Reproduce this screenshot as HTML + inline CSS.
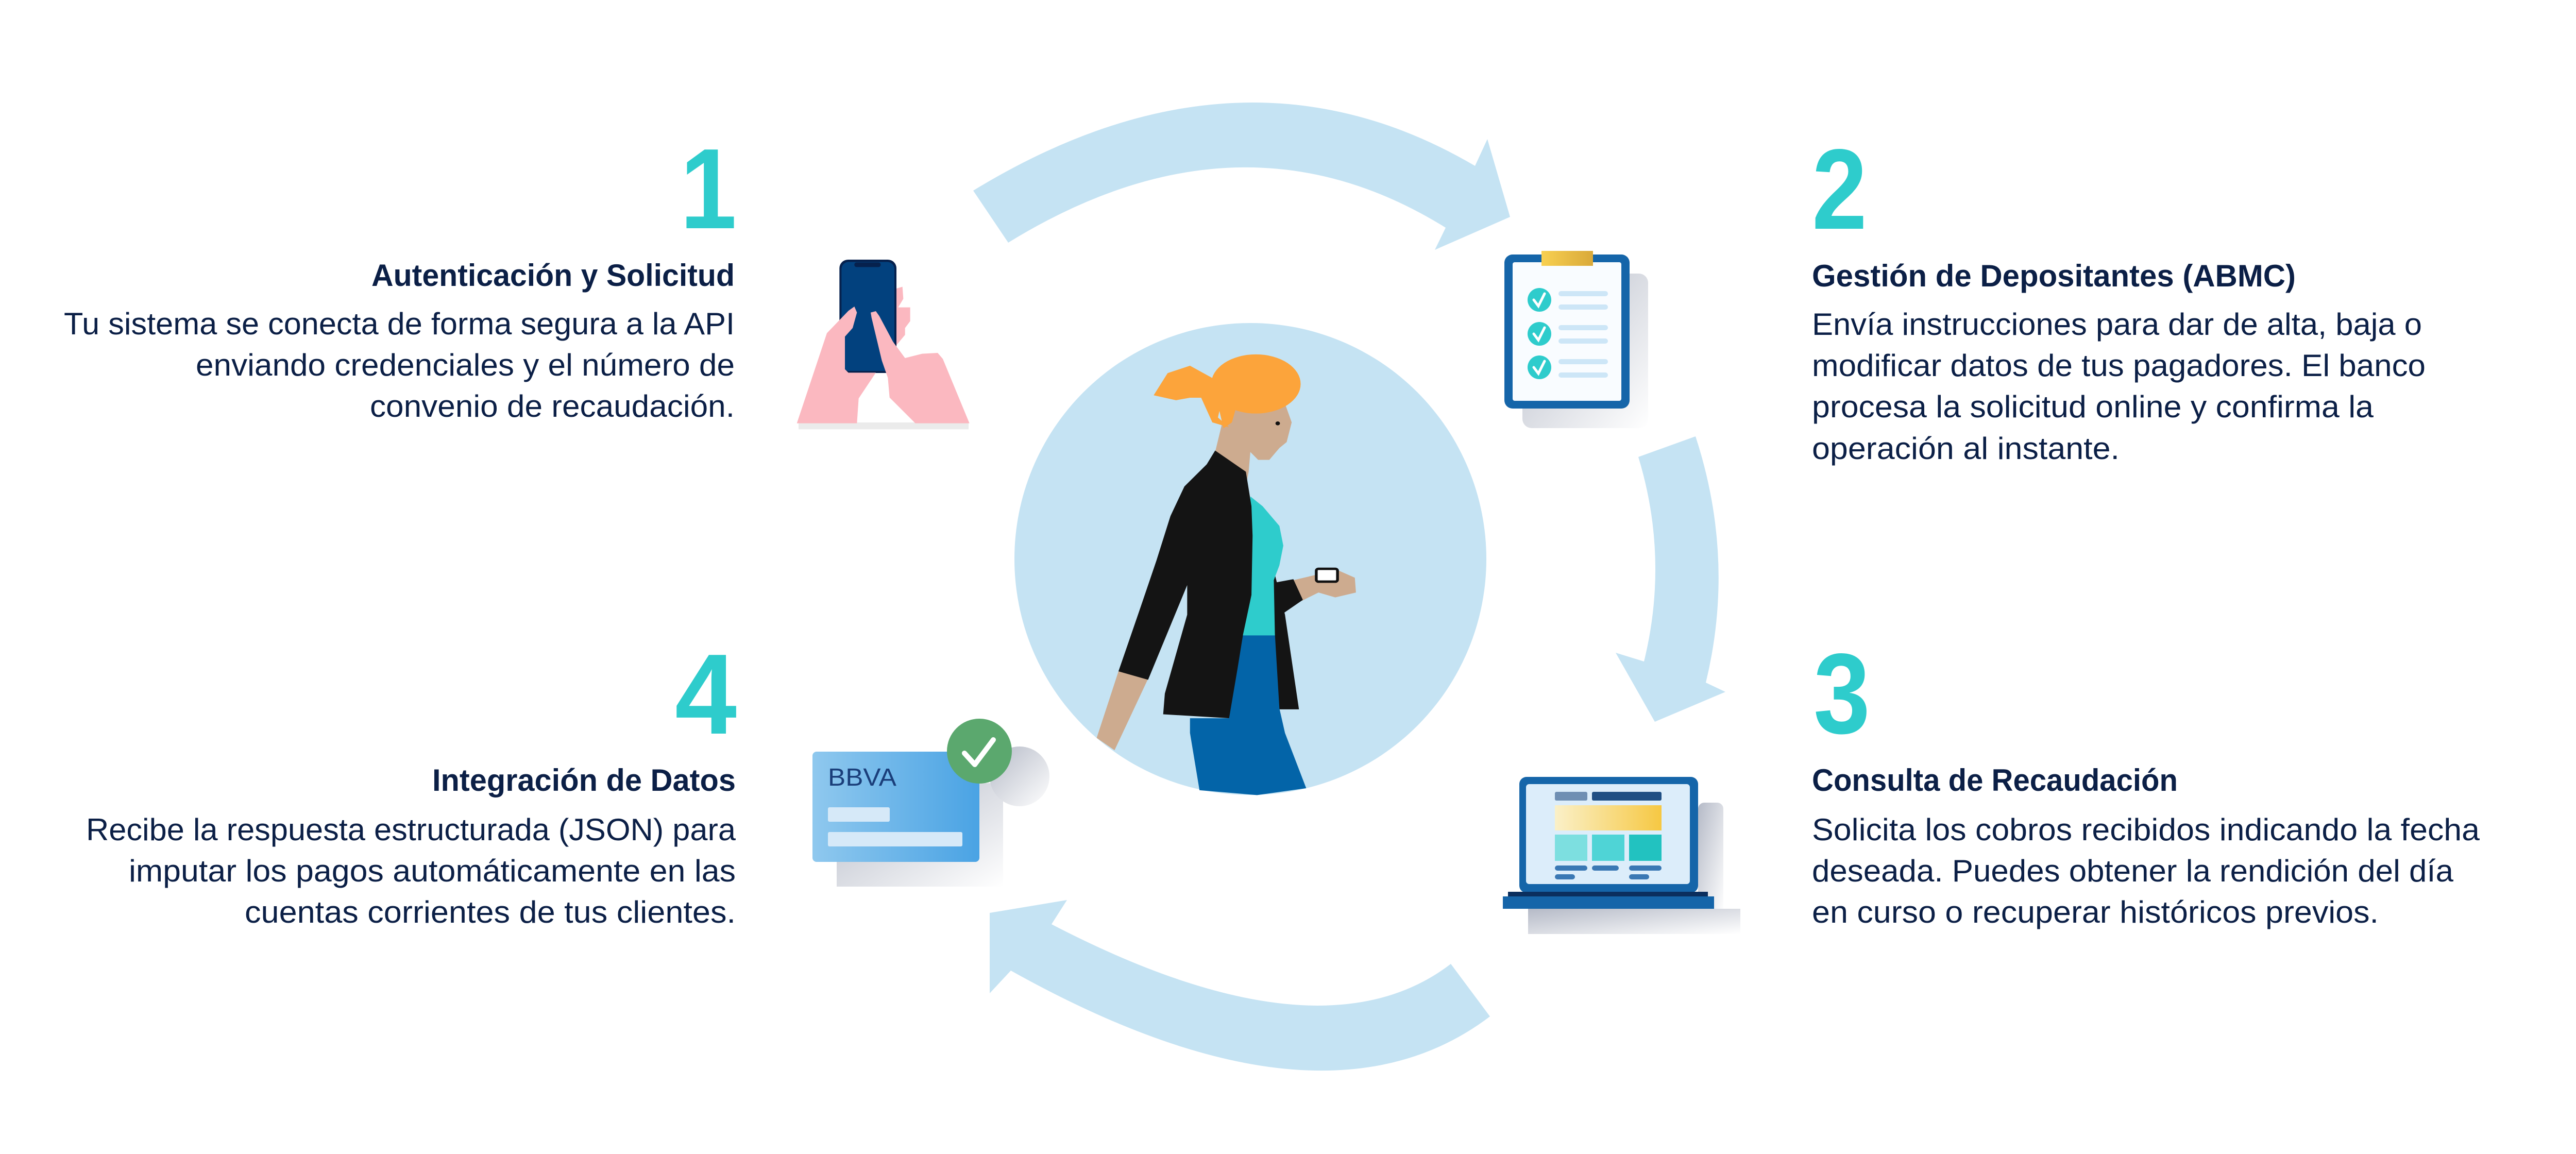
<!DOCTYPE html>
<html><head><meta charset="utf-8"><style>
html,body{margin:0;padding:0;background:#fff;}
svg{display:block;}
.num{font-family:"Liberation Sans",sans-serif;font-weight:bold;font-size:222px;fill:#2ecccc;}
.h{font-family:"Liberation Sans",sans-serif;font-weight:bold;font-size:60px;fill:#0b1f46;}
.b{font-family:"Liberation Sans",sans-serif;font-size:60px;fill:#0b1f46;}
</style></head><body>
<svg width="5004" height="2240" viewBox="0 0 5004 2240" xmlns="http://www.w3.org/2000/svg">
<defs>
<linearGradient id="sh" x1="0" y1="0" x2="1" y2="1"><stop offset="0" stop-color="#b5bac7"/><stop offset="1" stop-color="#ffffff"/></linearGradient>
<linearGradient id="card" x1="0" y1="0" x2="1" y2="0"><stop offset="0" stop-color="#8fc8ee"/><stop offset="1" stop-color="#4aa3e4"/></linearGradient>
<linearGradient id="yel" x1="0" y1="0" x2="1" y2="0"><stop offset="0" stop-color="#faf0c8"/><stop offset="1" stop-color="#f6c843"/></linearGradient>
<linearGradient id="clip" x1="0" y1="0" x2="1" y2="0"><stop offset="0" stop-color="#f8d050"/><stop offset="1" stop-color="#d9a93a"/></linearGradient>
</defs>

<!-- arrows -->
<g fill="#c5e3f3">
<path d="M1889,370 Q2407,54 2863,322 L2887,270 L2931,421 L2785,485 L2806,442 Q2407,194 1957,471 Z"/>
<path d="M3291,847 Q3369,1086 3311,1325 L3349,1343 L3212,1401 L3136,1267 L3191,1284 Q3240,1084 3180,887 Z"/>
<path d="M2892,1973 Q2565,2221 1962,1884 L1921,1928 L1921,1772 L2071,1747 L2041,1794 Q2563,2065 2816,1871 Z"/>
</g>

<!-- circle -->
<circle cx="2427" cy="1085" r="458" fill="#c5e3f3"/>

<!-- woman (zoom coords) -->
<g transform="translate(1800,150) scale(1.0846,0.957)">
<polygon fill="#cdab8f" points="342,1205 395,1220 335,1365 303,1340"/>
<polygon fill="#cdab8f" points="655,1020 700,1008 735,1000 765,1015 767,1045 730,1055 700,1045 670,1062"/>
<polygon fill="#141414" points="620,1000 640,1090 665,1282 630,1282 612,1130"/>
<polygon fill="#141414" points="622,1025 655,1018 672,1060 636,1088"/>
<polygon fill="#0364a8" points="555,1130 622,1130 630,1280 640,1330 678,1442 590,1456 487,1446 470,1330 470,1300 540,1300"/>
<polygon fill="#2ecccc" points="578,850 600,870 630,910 637,950 630,990 620,1020 622,1132 555,1132 575,1000"/>
<polygon fill="#cdab8f" points="530,690 560,665 640,662 652,700 643,740 630,752 612,776 592,776 578,760 575,800 570,830 530,790 515,760"/>
<polygon fill="#141414" points="515,757 570,800 580,870 582,930 580,1050 565,1130 555,1200 540,1300 422,1292 425,1250 440,1190 465,1090 465,1030 395,1222 342,1205 380,1080 410,980 435,890 460,830 500,785"/>
<ellipse cx="588" cy="622" rx="80" ry="60" fill="#fca43b"/>
<polygon fill="#fca43b" points="405,645 430,600 470,585 510,610 530,640 520,690 540,710 510,700 490,650 470,650 445,655"/>
<polygon fill="#fca43b" points="515,640 560,640 545,700 530,712"/>
<circle cx="627" cy="702" r="4" fill="#111"/>
<rect x="696" y="997" width="38" height="26" rx="4" fill="#fff" stroke="#111" stroke-width="5"/>
</g>

<!-- step 1 icon: phone & hands -->
<g transform="translate(1500,450) scale(0.33333)">
<rect x="150" y="1110" width="990" height="40" fill="#e6e6e6" opacity="0.8"/>
<polygon fill="#fbb8c0" points="720,330 755,320 760,390 730,440 800,440 800,520 770,560 770,600 720,660"/>
<rect x="388" y="162" width="332" height="660" rx="50" fill="#06214d"/>
<rect x="400" y="175" width="308" height="635" rx="42" fill="#02417e"/>
<rect x="475" y="178" width="153" height="27" rx="12" fill="#06214d"/>
<polygon fill="#fbb8c0" points="140,1115 315,590 440,460 475,435 490,470 465,560 420,610 420,800 440,820 600,820 500,970 490,1115"/>
<polygon fill="#fbb8c0" points="570,470 600,462 620,490 700,640 770,735 870,710 960,705 990,740 1145,1115 830,1115 680,965 670,850 635,750 575,500"/>
</g>

<!-- step 2 icon: clipboard -->
<rect x="2955" y="531" width="244" height="300" rx="18" fill="url(#sh)"/>
<rect x="2920" y="494" width="243" height="299" rx="16" fill="#1565a9"/>
<rect x="2936" y="509" width="211" height="269" rx="4" fill="#f9fcff"/>
<rect x="2992" y="487" width="100" height="29" fill="url(#clip)"/>
<g fill="#2ecccc"><circle cx="2988" cy="582" r="23"/><circle cx="2988" cy="648" r="23"/><circle cx="2988" cy="713" r="23"/></g>
<g fill="none" stroke="#fff" stroke-width="5" stroke-linecap="round"><path d="M2977,582 L2986,594 L2998,570"/><path d="M2977,648 L2986,660 L2998,636"/><path d="M2977,713 L2986,725 L2998,701"/></g>
<g stroke="#cde6f7" stroke-width="10" stroke-linecap="round">
<line x1="3030" y1="570" x2="3116" y2="570"/><line x1="3030" y1="596" x2="3116" y2="596"/>
<line x1="3030" y1="636" x2="3116" y2="636"/><line x1="3030" y1="662" x2="3116" y2="662"/>
<line x1="3030" y1="702" x2="3116" y2="702"/><line x1="3030" y1="728" x2="3116" y2="728"/>
</g>

<!-- step 3 icon: laptop -->
<rect x="3296" y="1558" width="49" height="222" rx="12" fill="url(#sh)"/>
<rect x="2966" y="1764" width="412" height="49" fill="url(#sh)"/>
<rect x="2949" y="1508" width="347" height="225" rx="14" fill="#1565a9"/>
<rect x="2962" y="1522" width="318" height="194" rx="6" fill="#dcedfa"/>
<rect x="3018" y="1537" width="63" height="17" rx="3" fill="#6f8fb3"/>
<rect x="3090" y="1537" width="135" height="17" rx="3" fill="#1f4f84"/>
<rect x="3018" y="1563" width="207" height="49" fill="url(#yel)"/>
<rect x="3018" y="1620" width="63" height="51" fill="#7ddfe0"/>
<rect x="3090" y="1620" width="63" height="51" fill="#4fd4d6"/>
<rect x="3162" y="1620" width="63" height="51" fill="#22c2c0"/>
<g fill="#3a78b4"><rect x="3018" y="1680" width="63" height="10" rx="5"/><rect x="3090" y="1680" width="52" height="10" rx="5"/><rect x="3162" y="1680" width="63" height="10" rx="5"/><rect x="3018" y="1697" width="39" height="10" rx="5"/><rect x="3162" y="1697" width="39" height="10" rx="5"/></g>
<rect x="2927" y="1731" width="388" height="10" fill="#0b2f5e"/>
<rect x="2917" y="1740" width="410" height="24" fill="#1565a9"/>

<!-- step 4 icon: card -->
<rect x="1624" y="1520" width="323" height="201" fill="url(#sh)"/>
<circle cx="1979" cy="1507" r="58" fill="url(#sh)"/>
<rect x="1577" y="1459" width="324" height="214" rx="8" fill="url(#card)"/>
<text x="1607" y="1525" font-family="Liberation Sans,sans-serif" font-size="48" fill="#1a3e7a" textLength="133" lengthAdjust="spacingAndGlyphs">BBVA</text>
<rect x="1607" y="1567" width="120" height="28" rx="3" fill="#d6e9f8"/>
<rect x="1607" y="1615" width="261" height="28" rx="3" fill="#d6e9f8"/>
<circle cx="1901" cy="1458" r="63" fill="#5ba86e"/>
<path d="M1872,1462 L1892,1484 L1928,1436" fill="none" stroke="#fff" stroke-width="10" stroke-linecap="round" stroke-linejoin="round"/>

<!-- numbers -->
<text class="num" x="1320" y="443" textLength="110" lengthAdjust="spacingAndGlyphs">1</text>
<text class="num" x="3517" y="444" textLength="107" lengthAdjust="spacingAndGlyphs">2</text>
<text class="num" x="3520" y="1423" textLength="110" lengthAdjust="spacingAndGlyphs">3</text>
<text class="num" x="1310" y="1424" textLength="120" lengthAdjust="spacingAndGlyphs">4</text>

<!-- step 1 text -->
<text class="h" x="721" y="555" textLength="705" lengthAdjust="spacingAndGlyphs">Autenticación y Solicitud</text>
<text class="b" x="124" y="649" textLength="1302" lengthAdjust="spacingAndGlyphs">Tu sistema se conecta de forma segura a la API</text>
<text class="b" x="380" y="729" textLength="1046" lengthAdjust="spacingAndGlyphs">enviando credenciales y el número de</text>
<text class="b" x="718" y="809" textLength="708" lengthAdjust="spacingAndGlyphs">convenio de recaudación.</text>

<!-- step 2 text -->
<text class="h" x="3517" y="556" textLength="939" lengthAdjust="spacingAndGlyphs">Gestión de Depositantes (ABMC)</text>
<text class="b" x="3517" y="650" textLength="1184" lengthAdjust="spacingAndGlyphs">Envía instrucciones para dar de alta, baja o</text>
<text class="b" x="3517" y="730" textLength="1191" lengthAdjust="spacingAndGlyphs">modificar datos de tus pagadores. El banco</text>
<text class="b" x="3517" y="810" textLength="1090" lengthAdjust="spacingAndGlyphs">procesa la solicitud online y confirma la</text>
<text class="b" x="3517" y="891" textLength="597" lengthAdjust="spacingAndGlyphs">operación al instante.</text>

<!-- step 3 text -->
<text class="h" x="3517" y="1535" textLength="710" lengthAdjust="spacingAndGlyphs">Consulta de Recaudación</text>
<text class="b" x="3517" y="1631" textLength="1296" lengthAdjust="spacingAndGlyphs">Solicita los cobros recibidos indicando la fecha</text>
<text class="b" x="3517" y="1711" textLength="1245" lengthAdjust="spacingAndGlyphs">deseada. Puedes obtener la rendición del día</text>
<text class="b" x="3517" y="1791" textLength="1100" lengthAdjust="spacingAndGlyphs">en curso o recuperar históricos previos.</text>

<!-- step 4 text -->
<text class="h" x="839" y="1535" textLength="589" lengthAdjust="spacingAndGlyphs">Integración de Datos</text>
<text class="b" x="167" y="1631" textLength="1261" lengthAdjust="spacingAndGlyphs">Recibe la respuesta estructurada (JSON) para</text>
<text class="b" x="250" y="1711" textLength="1178" lengthAdjust="spacingAndGlyphs">imputar los pagos automáticamente en las</text>
<text class="b" x="475" y="1791" textLength="953" lengthAdjust="spacingAndGlyphs">cuentas corrientes de tus clientes.</text>
</svg>
</body></html>
